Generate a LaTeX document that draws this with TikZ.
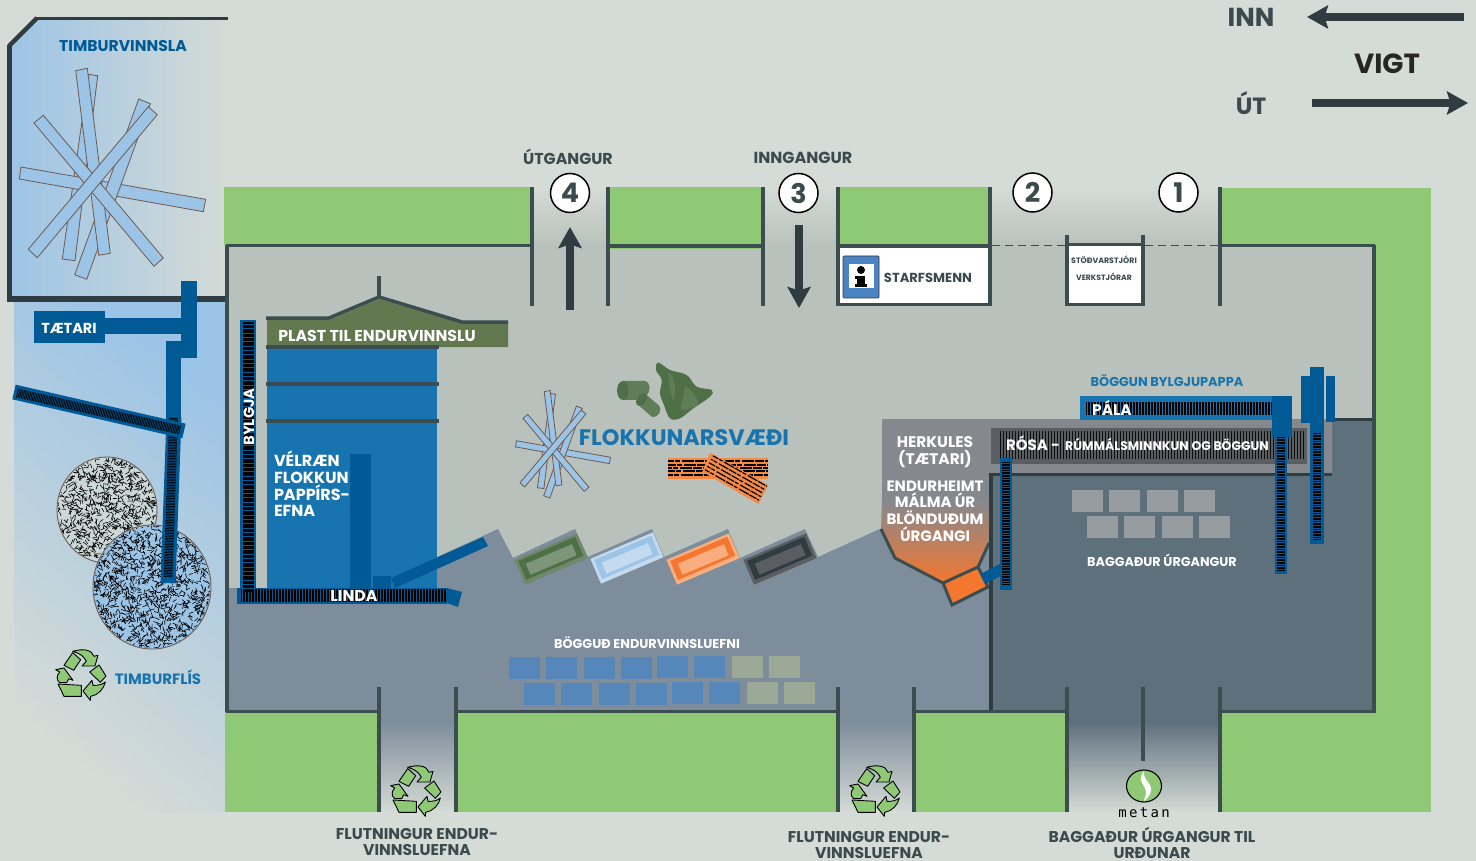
\documentclass[tikz,border=0pt]{standalone}
\usepackage{fontspec}
\setmainfont{Poppins}
\newfontfamily\monofam{DejaVu Sans Mono}
\usetikzlibrary{arrows.meta,shapes.geometric,calc}
\definecolor{pagecol}{HTML}{D5DBD6}
\definecolor{floorcol}{HTML}{B8C1BB}
\definecolor{rampcol}{HTML}{7D8D9B}
\definecolor{roomcol}{HTML}{5F707D}
\definecolor{greencol}{HTML}{8FC975}
\definecolor{wallcol}{HTML}{3B4D4F}
\definecolor{walldark}{HTML}{2F3C41}
\definecolor{bluedark}{HTML}{005A96}
\definecolor{bluemid}{HTML}{1874AE}
\definecolor{bluelight}{HTML}{9CC4E6}
\definecolor{olive}{HTML}{62794F}
\definecolor{greyblock}{HTML}{85898E}
\definecolor{greyband}{HTML}{5A5E62}
\definecolor{orangecol}{HTML}{F47730}
\definecolor{brickcol}{HTML}{F58A45}
\definecolor{stickline}{HTML}{6E5A50}
\definecolor{balegrey}{HTML}{979CA1}
\definecolor{baleblue}{HTML}{5687BA}
\definecolor{baleolive}{HTML}{9BA895}
\definecolor{darktxt}{HTML}{3A4A4D}
\definecolor{greenA}{HTML}{4F7047}
\definecolor{greenB}{HTML}{5F7E58}
\definecolor{binA}{HTML}{71886C}
\definecolor{binB}{HTML}{7D9578}
\definecolor{binC}{HTML}{C4DAEF}
\definecolor{binD}{HTML}{FAAE80}
\definecolor{infoblue}{HTML}{4A84C4}
\newcommand\fs[1]{\fontsize{#1}{#1}\selectfont\bfseries}
\newcommand\fsl[2]{\fontsize{#1}{#2}\selectfont\bfseries}
\tikzset{
  wall/.style={wallcol,line width=4pt},
  hwall/.style={wallcol,line width=3.4pt},
  stick/.style={draw=stickline,fill=bluelight,line width=.8pt},
  lab/.style={inner sep=0,outer sep=0,align=center},
  whitelab/.style={lab,text=white},
  darklab/.style={lab,text=darktxt},
  bluelab/.style={lab,text=bluemid},
  hatch/.style={black,line width=#1,dash pattern=on .8pt off .8pt},
  hatch/.default=9pt,
  bigarrow/.style={draw=walldark,line width=7.5pt,-{Stealth[length=21pt,width=23pt,inset=3.5pt]}},
  numcirc/.style={circle,draw=black,line width=1.5pt,fill=white,minimum size=39pt,inner sep=0,text=darktxt,font=\fs{27}},
  recy/.pic={
    \begin{scope}[scale=.3333,shift={(-229,-514)},fill=greencol,draw=black,line width=.9pt,line join=round]
      \filldraw (204,447)--(228,468)--(207,500)--(178,485)--cycle;
      \filldraw (204,443) .. controls (235,434) and (262,438) .. (268,458)--(280,455)--(271,487)--(232,487)--(245,473) .. controls (240,460) and (225,448) .. (204,443)--cycle;
      \filldraw (283,484)--(304,517)--(287,536)--(255,505)--cycle;
      \filldraw (302,535) .. controls (298,555) and (280,575) .. (258,578)--(257,590)--(235,562)--(262,530)--(265,545) .. controls (280,546) and (295,542) .. (302,535)--cycle;
      \filldraw (160,541)--(230,545)--(230,578)--(178,578)--cycle;
      \filldraw (153,498)--(178,493)--(205,530)--(192,525)--(186,537)--(165,537) .. controls (155,530) and (155,515) .. (165,505)--cycle;
    \end{scope}
  },
}
\newcommand\sticks{%
  \filldraw[stick] (88.7,74.3)--(97.7,75.7)--(75,260.7)--(62.3,259)--cycle;
  \filldraw[stick] (21,167)--(205.7,199.3)--(203.3,211.7)--(19.3,179)--cycle;
  \filldraw[stick] (138.7,99)--(150.3,103.7)--(86.7,279.3)--(74.7,274.7)--cycle;
  \filldraw[stick] (75.7,70.7)--(87.3,68.3)--(110.3,253.3)--(98.7,255.3)--cycle;
  \filldraw[stick] (43.3,115.3)--(34,123)--(154,266.3)--(163.3,258)--cycle;
  \filldraw[stick] (148.3,106.7)--(157.3,114.7)--(37.3,257.7)--(28.3,249.3)--cycle;
}
% centre x, centre y, outer, ring, inner
\newcommand\binbox[5]{%
  \begin{scope}[shift={(#1,#2)},rotate=23]
    \fill[#3] (-34,-13.5)rectangle(34,13.5);
    \fill[#4] (-31,-11)rectangle(31,9.5);
    \fill[#5] (-25,-5.5)rectangle(25,6.5);
  \end{scope}}
\begin{document}
\begin{tikzpicture}[x=1pt,y=-1pt]
\useasboundingbox (0,0) rectangle (1476,861);
\fill[pagecol] (0,0) rectangle (1476,861);
% left blue areas
\shade[top color=bluelight,bottom color=pagecol,shading angle=-40] (14,300) rectangle (225,812);
\shade[left color=bluelight,middle color=bluelight!92!pagecol,right color=pagecol] (8,47)--(37,18)--(228,18)--(228,299)--(8,299)--cycle;
% top fade + floor
\shade[top color=pagecol,bottom color=floorcol] (225,187) rectangle (1375,246);
\fill[floorcol] (226,245) rectangle (1375,712);
% bottom gate fades
\shade[top color=rampcol,bottom color=pagecol] (379,722) rectangle (456,812);
\fill[rampcol] (379,700) rectangle (456,723);
\shade[top color=rampcol,bottom color=pagecol] (838,722) rectangle (914,812);
\fill[rampcol] (838,700) rectangle (914,723);
\shade[top color=roomcol,bottom color=pagecol] (1067,722) rectangle (1220,812);
\fill[roomcol] (1067,700) rectangle (1220,723);
% ramp
\fill[rampcol] (228,588)--(437,588)--(437,557)--(498,529)--(513,558)--(575,529)--(588,557)--(652,529)--(664,557)--(728,529)--(740,558)--(805,529)--(818,557)--(882,528)--(992,528)--(992,712)--(228,712)--cycle;
% right room
\fill[roomcol] (990,476)--(1332,476)--(1332,419)--(1375,419)--(1375,712)--(990,712)--cycle;
% grey block and hopper
\fill[greyblock] (882,419)--(1332,419)--(1332,473)--(991,473)--(991,501)--(882,501)--cycle;
\shade[top color=greyblock,middle color=orangecol!95!greyblock,bottom color=orangecol] (882,500)--(991,500)--(988,543)--(978,567)--(943,583)--(895,558)--(881,529)--cycle;
\fill[greyband] (991,428) rectangle (1307,464);
\draw[wallcol,line width=3pt] (881,529)--(895,558)--(943,583);
\draw[wallcol,line width=3pt] (989,543)--(978,567);
\draw[fill=orangecol,line width=3pt,draw=wallcol,line join=miter] (943,583)--(978,567)--(988,587)--(952,605)--cycle;
% walls of right room
\draw[walldark,line width=3.5pt] (989,474.5)--(1332,474.5);
\draw[walldark,line width=3pt] (1333,419.5)--(1375,419.5);
\draw[walldark,line width=4pt] (991,474)--(991,712);
% greens
\fill[greencol] (224,187) rectangle (532,245);
\fill[greencol] (608,187) rectangle (762,249.5);
\fill[greencol] (838,187) rectangle (990,246);
\fill[greencol] (1220,188) rectangle (1431,245);
\fill[greencol] (1375,245) rectangle (1431,712);
\fill[greencol] (225,712) rectangle (379,812);
\fill[greencol] (456,712) rectangle (838,812);
\fill[greencol] (914,712) rectangle (1067,812);
\fill[greencol] (1220,712) rectangle (1431,812);
% timber walls
\draw[walldark,line width=3pt] (228,18.5)--(36,18.5);
\draw[walldark,line width=4.5pt] (37,18)--(9,46);
\draw[walldark,line width=5pt] (9.5,45)--(9.5,301);
\draw[walldark,line width=6pt] (7,299)--(226,299);
% floor walls
\draw[hwall] (226,245.5)--(532,245.5);
\draw[hwall] (608,246)--(762,246);
\draw[hwall] (838,246)--(990,246);
\draw[hwall] (1220,245.5)--(1375,245.5);
\draw[wall] (226.5,245)--(226.5,712);
\draw[wall] (1374,245)--(1374,713);
\draw[hwall] (226,711.5)--(379,711.5);
\draw[hwall] (456,711.5)--(838,711.5);
\draw[hwall] (914,711.5)--(1067,711.5);
\draw[hwall] (1220,711.5)--(1375,711.5);
\foreach \xx in {532,608,763,838,990,1220}{\draw[wall] (\xx,187)--(\xx,306);}
\foreach \xx in {379,456,838,914,1067,1220}{\draw[wall] (\xx,687)--(\xx,812);}
\draw[wall] (1143,687)--(1143,761);
% offices
\fill[white] (840,248) rectangle (988,303);
\draw[hwall] (836,304.5)--(992,304.5);
\draw[wallcol,line width=.9pt,dash pattern=on 8pt off 5pt] (992,245)--(1065,245);
\draw[wallcol,line width=.9pt,dash pattern=on 8pt off 5pt] (1145,245)--(1218,245);
\fill[white] (1069,246) rectangle (1141,303);
\draw[wall] (1067,235)--(1067,306);
\draw[wall] (1143,235)--(1143,306);
\draw[hwall] (1067,244.5)--(1143,244.5);
\draw[hwall] (1065,304.5)--(1145,304.5);
% info sign
\filldraw[fill=infoblue,draw=walldark,line width=.7pt,rounded corners=1pt] (843,256) rectangle (879,298);
\fill[white] (849,264) rectangle (874,288);
\fill[black] (861,270) circle (4);
\fill[black] (857,276) rectangle (865,287);
\fill[black] (855,284) rectangle (867,287);
\fill[black] (855,276) rectangle (865,279);
% circles
\node[numcirc] (n4) at (570,193) {4};
\node[numcirc] (n3) at (798.5,193) {3};
\node[numcirc] (n2) at (1032.5,192.5) {2};
\node[numcirc] (n1) at (1178.5,192.5) {1};
% arrows
\coordinate (innA) at (1464,17); \coordinate (innB) at (1307,17);
\coordinate (utA) at (1312,103); \coordinate (utB) at (1468,103);
\coordinate (upA) at (570,310); \coordinate (upB) at (570,227);
\coordinate (dnA) at (799,225); \coordinate (dnB) at (799,308);
\draw[bigarrow] (innA)--(innB);
\draw[bigarrow] (utA)--(utB);
\draw[bigarrow] (upA)--(upB);
\draw[bigarrow] (dnA)--(dnB);
% timber
\sticks
\begin{scope}[shift={(563,452)},scale=.51,shift={(-112.5,-189)}]
\sticks
\end{scope}
% tætari
\fill[bluedark] (105,318) rectangle (183,334);
\fill[bluedark] (181,281) rectangle (197,358);
\fill[bluedark] (166,341) rectangle (181,420);
\fill[bluedark] (34,311) rectangle (105,343);
% wood circles
\begin{scope}
\filldraw[fill=pagecol!85!bluelight,draw=stickline,line width=.9pt] (107,510) ellipse (50 and 53);
\clip (107,510) ellipse (49 and 52);
\pgfmathsetseed{11}
\foreach \i in {1,...,1100}{
  \pgfmathsetmacro\px{55+104*rnd}\pgfmathsetmacro\py{455+110*rnd}\pgfmathsetmacro\pa{360*rnd}
  \draw[black,line width=.6pt] (\px,\py)--++(\pa:4.5);
}
\end{scope}
\begin{scope}
\filldraw[fill=bluelight,draw=stickline,line width=.9pt] (152,587) ellipse (59 and 62);
\clip (152,587) ellipse (58 and 61);
\foreach \i in {1,...,1500}{
  \pgfmathsetmacro\px{91+122*rnd}\pgfmathsetmacro\py{523+128*rnd}\pgfmathsetmacro\pa{360*rnd}
  \draw[black,line width=.6pt] (\px,\py)--++(\pa:4.5);
}
\end{scope}
% wood conveyors
\draw[bluedark,line width=15pt] (174,417)--(168,583);
\draw[hatch=9pt] (173.5,418)--(168,577);
\draw[bluedark,line width=15pt] (14,392)--(184,431);
\draw[hatch=9pt] (17,393)--(180,430);
% tower
\fill[bluemid] (267,346) rectangle (437,590);
\fill[olive] (267,320)--(329,320)--(379,299)--(462,323)--(508,323)--(508,347)--(267,347)--cycle;
\draw[wallcol,line width=3.5pt,line join=miter] (266,318)--(329,318)--(379,297)--(462,322)--(508,322);
\draw[wallcol,line width=4pt] (379,276)--(379,297);
\draw[wallcol,line width=3.5pt] (266,347)--(439,347);
\draw[wallcol,line width=3.5pt] (266,384)--(439,384);
\draw[wallcol,line width=3.5pt] (266,421)--(439,421);
\fill[bluedark] (350,454) rectangle (371,590);
\fill[bluedark] (373,576) rectangle (391,590);
\fill[bluedark] (391,578)--(483,537)--(488,546)--(395,588)--cycle;
% bylgja + linda
\fill[bluedark] (240,320) rectangle (256,597);
\fill[bluedark] (237,588) rectangle (447,604);
\fill[bluedark] (447,588)--(462,592)--(458,607)--(447,603)--cycle;
\draw[black,line width=13pt,dash pattern=on .8pt off .7pt] (241,595.5)--(446,595.5);
\draw[black,line width=11pt,dash pattern=on 1pt off .3pt] (248.5,322)--(248.5,592);
% bins
\binbox{551}{559}{binA}{greenA}{binB}
\binbox{627}{558}{binC}{bluelight}{binC}
\binbox{703}{559}{binD}{orangecol}{binD}
\binbox{780}{559}{greyband}{walldark}{greyband}
% cylinder & bag
\begin{scope}[shift={(490,350)},scale=.3333]
\fill[greenB] (400,93)--(465,93) .. controls (480,93) and (485,125) .. (470,135)--(450,150)--(400,150)--cycle;
\fill[greenA] (400,93) .. controls (375,93) and (375,150) .. (400,150) .. controls (420,150) and (420,93) .. (400,93)--cycle;
\fill[greenB] (445,165)--(470,135)--(505,165) .. controls (520,180) and (505,205) .. (485,200)--cycle;
\fill[greenA] (438,155) .. controls (445,125) and (475,120) .. (472,145) .. controls (468,165) and (440,180) .. (438,155)--cycle;
\fill[greenA] plot[smooth cycle,tension=.6] coordinates {(505,38) (540,60) (590,75) (620,110) (665,120) (660,140) (610,175) (570,205) (540,205) (522,165) (510,130) (515,90) (498,60)};
\fill[greenB] plot[smooth cycle,tension=.6] coordinates {(535,70) (550,85) (555,125) (548,150) (540,110)};
\fill[greenB] plot[smooth cycle,tension=.6] coordinates {(590,110) (625,160) (575,180) (580,140)};
\end{scope}
% bricks
\fill[brickcol] (668,458) rectangle (768,479);
\begin{scope}
\clip (668,458) rectangle (768,479);
\foreach \yy/\dd in {461/3,465/1,468/5,471/2,475/4}{
  \draw[black,line width=1.3pt,dash pattern=on 9pt off 1pt on 5pt off 2pt on 12pt off 1pt,dash phase=\dd pt] (668,\yy)--(768,\yy);}
\end{scope}
\begin{scope}[shift={(490,350)},scale=.3333]
\fill[brickcol] (660,308)--(835,405)--(805,462)--(637,365)--cycle;
\end{scope}
\begin{scope}[shift={(736,478)},rotate=-29.5]
\clip (-31,-11) rectangle (31,11);
\foreach \yy/\dd in {-8/2,-4/6,0/1,4/4,8/3}{
  \draw[black,line width=1.2pt,dash pattern=on 8pt off 1pt on 4pt off 2pt on 11pt off 1pt,dash phase=\dd pt] (-31,\yy)--(31,\yy);}
\end{scope}
% right hand conveyors
\draw[black,opacity=.85,line width=28pt,dash pattern=on 1pt off 2pt] (1000,445)--(1304,445);
\fill[bluedark] (1301,376) rectangle (1321,423);
\fill[bluedark] (1310,367) rectangle (1324,544);
\fill[bluedark] (1326,376) rectangle (1335,422);
\draw[hatch=8pt] (1317,433)--(1317,540);
\fill[bluemid] (1080,396) rectangle (1272,420);
\draw[black,line width=13pt,dash pattern=on .8pt off .7pt] (1086,408.5)--(1272,408.5);
\fill[bluedark] (1275,437) rectangle (1287,574);
\draw[hatch=8pt] (1281,437)--(1281,570);
\fill[bluedark] (1272,396) rectangle (1292,437);
\draw[bluedark,line width=11pt] (983,579)--(1002,569);
\fill[bluedark] (1000,458) rectangle (1012,590);
\draw[hatch=8pt] (1006,462)--(1006,585);
% bales
\foreach \xx in {1072,1109,1147,1184}{\fill[balegrey] (\xx,490) rectangle ++(31,22);}
\foreach \xx in {1087,1124,1162,1199}{\fill[balegrey] (\xx,516) rectangle ++(31,22);}
\foreach \xx/\yy/\cc in {509/657/baleblue,546/657/baleblue,584/657/baleblue,621/657/baleblue,657/656/baleblue,694/656/baleblue,732/656/baleolive,769/656/baleolive}{\fill[\cc] (\xx,\yy) rectangle ++(31,22);}
\foreach \xx/\yy/\cc in {524/683/baleblue,561/683/baleblue,599/683/baleblue,636/683/baleblue,672/682/baleblue,709/682/baleblue,747/682/baleolive,784/682/baleolive}{\fill[\cc] (\xx,\yy) rectangle ++(31,22);}
% recycling and metan
\pic at (81,675) {recy};
\pic at (416,791) {recy};
\pic at (875,791) {recy};
\filldraw[fill=greencol,draw=black,line width=1.1pt] (1144,786) ellipse (17.5 and 16);
\fill[white] (1144,771) .. controls (1136,780) and (1146,786) .. (1146,792) .. controls (1146,796) and (1144,799) .. (1144,801) .. controls (1150,797) and (1153,790) .. (1150,785) .. controls (1147,780) and (1143,778) .. (1144,771)--cycle;
\node[lab,text=black,font=\monofam\fontsize{14}{14}\selectfont,text width=60pt] (metan) at (1144,813) {m\,e\,t\,a\,n};
% labels
\node[darklab,font=\fs{26}] (inn) at (1251,17) {INN};
\node[lab,text=black!85,font=\fs{27.7}] (vigt) at (1387,64) {VIGT};
\node[darklab,font=\fs{23.5}] (ut) at (1251,103) {ÚT};
\node[darklab,font=\fs{15.8}] (utgangur) at (568,157) {ÚTGANGUR};
\node[darklab,font=\fs{16}] (inngangur) at (803,158) {INNGANGUR};
\node[lab,text=bluedark,font=\fs{15.6}] (timbur) at (123,46.5) {TIMBURVINNSLA};
\node[whitelab,font=\fs{14.5}] (taetari) at (69,328) {TÆTARI};
\node[whitelab,font=\fs{14.8},rotate=90] (bylgja) at (249,417) {BYLGJA};
\node[whitelab,font=\fs{15.75}] (plast) at (377,336) {PLAST TIL ENDURVINNSLU};
\node[whitelab,font=\fsl{16}{16.7},align=left,anchor=north west] (velraen) at (274,451) {VÉLRÆN\\FLOKKUN\\PAPPÍRS-\\EFNA};
\node[whitelab,font=\fs{15.8}] (linda) at (354,596) {LINDA};
\node[bluelab,font=\fs{22.4}] (flokkun) at (684,438) {FLOKKUNARSVÆÐI};
\node[bluelab,font=\fs{12.9}] (boggunb) at (1167,380.5) {BÖGGUN BYLGJUPAPPA};
\node[whitelab,font=\fs{15.4}] (pala) at (1112,408) {PÁLA};
\node[whitelab,font=\fs{15},anchor=west] (rosa) at (1006,443) {RÓSA -};
\node[whitelab,font=\fs{12.5}] (rumm) at (1167,444) {RÚMMÁLSMINNKUN OG BÖGGUN};
\node[whitelab,font=\fsl{15.4}{17.5}] (herk) at (935,452) {HERKULES\\(TÆTARI)};
\node[whitelab,font=\fsl{15}{16.7}] (endur) at (935,511) {ENDURHEIMT\\MÁLMA ÚR\\BLÖNDUÐUM\\ÚRGANGI};
\node[whitelab,font=\fs{12.8}] (bagg) at (1162,560.5) {BAGGAÐUR ÚRGANGUR};
\node[whitelab,font=\fs{12.85}] (bogg) at (647,642.5) {BÖGGUÐ ENDURVINNSLUEFNI};
\node[bluelab,font=\fs{15}] (flis) at (158,677.5) {TIMBURFLÍS};
\node[darklab,font=\fs{13.1}] (starf) at (928,278) {STARFSMENN};
\node[darklab,font=\fs{7.85}] (stod) at (1104,260) {STÖÐVARSTJÓRI};
\node[darklab,font=\fs{7.7}] (verk) at (1104,277) {VERKSTJÓRAR};
\node[darklab,font=\fsl{15.6}{16.8}] (flut1) at (417,842) {FLUTNINGUR ENDUR-\\VINNSLUEFNA};
\node[darklab,font=\fsl{15.6}{15.5}] (flut2) at (869,845) {FLUTNINGUR ENDUR-\\VINNSLUEFNA};
\node[darklab,font=\fsl{15.6}{15.5}] (baggt) at (1152,843) {BAGGAÐUR ÚRGANGUR TIL\\URÐUNAR};
\end{tikzpicture}
\end{document}
